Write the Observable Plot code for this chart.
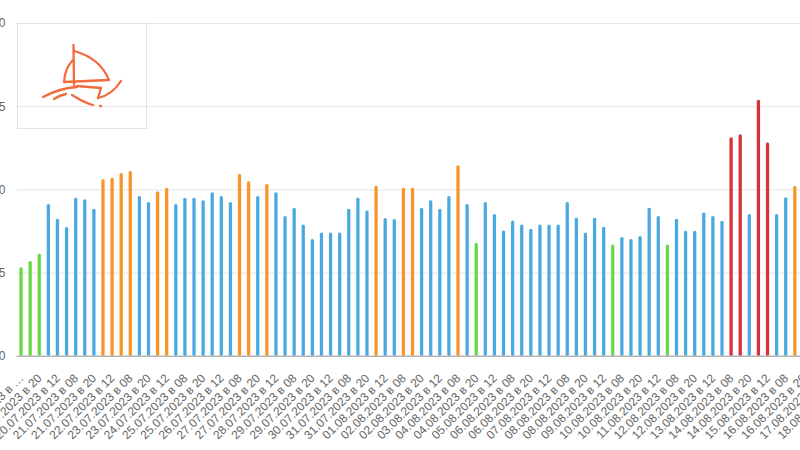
<!DOCTYPE html>
<html><head><meta charset="utf-8">
<script src="https://cdn.jsdelivr.net/npm/d3@7"></script>
<script src="https://cdn.jsdelivr.net/npm/@observablehq/plot@0.6"></script>
<style>
html,body{margin:0;padding:0;background:#fff;}
#wrap{position:relative;width:800px;height:450px;overflow:hidden;background:#fff;}
#chart{position:absolute;left:-30px;top:0;}
#logo{position:absolute;left:17px;top:23px;}
</style></head><body>
<div id="wrap"><div id="chart"></div>
<svg id="logo" width="131" height="107" viewBox="17 23 131 107">
  <rect x="17.5" y="23.5" width="129" height="105" fill="none" stroke="#e3e3e3"/>
  <g fill="none" stroke="#f26b3c" stroke-width="2.3" stroke-linecap="round" stroke-linejoin="round">
    <path d="M73.5,45 L74,85"/>
    <path d="M74,51 Q100,58 109,80 L64,82 Q65,68 73,60"/>
    <path d="M43,97 Q60,88 77,87"/>
    <path d="M77,86 L101,88 L98,98"/>
    <path d="M98,98 Q112,95 121,81"/>
    <path d="M54,99 Q60,95 66,94"/>
    <path d="M72,95 Q85,103 93,105"/>
    <path d="M100,106 L101,106"/>
  </g>
</svg>
</div>
<script>
const days = ["19.07.2023","20.07.2023","21.07.2023","22.07.2023","23.07.2023","24.07.2023","25.07.2023","26.07.2023","27.07.2023","28.07.2023","29.07.2023","30.07.2023","31.07.2023","01.08.2023","02.08.2023","03.08.2023","04.08.2023","05.08.2023","06.08.2023","07.08.2023","08.08.2023","09.08.2023","10.08.2023","11.08.2023","12.08.2023","13.08.2023","14.08.2023","15.08.2023","16.08.2023","17.08.2023","18.08.2023"];
const hours = ["08","12","20"];
const values = [5.32,5.70,6.14,9.12,8.23,7.73,9.50,9.40,8.84,10.60,10.70,10.98,11.10,9.60,9.24,9.88,10.10,9.12,9.50,9.50,9.34,9.82,9.60,9.24,10.92,10.48,9.60,10.32,9.82,8.40,8.90,7.89,7.01,7.41,7.41,7.41,8.84,9.50,8.73,10.22,8.28,8.22,10.10,10.10,8.90,9.34,8.84,9.60,11.45,9.12,6.79,9.24,8.52,7.53,8.13,7.89,7.63,7.89,7.89,7.89,9.24,8.30,7.41,8.30,7.75,6.69,7.13,7.01,7.19,8.90,8.40,6.69,8.23,7.51,7.51,8.61,8.40,8.11,13.13,13.31,8.52,15.39,12.81,8.52,9.52,10.20];
const levels = ["g","g","g","b","b","b","b","b","b","o","o","o","o","b","b","o","o","b","b","b","b","b","b","b","o","o","b","o","b","b","b","b","b","b","b","b","b","b","b","o","b","b","o","o","b","b","b","b","o","b","g","b","b","b","b","b","b","b","b","b","b","b","b","b","b","g","b","b","b","b","b","g","b","b","b","b","b","b","r","r","b","r","r","b","b","o"];
const yTicks = [0,5,10,15,20];
const levelNames = ["g","b","o","r"];
const levelColors = ["#66d948","#4aa9df","#f7952a","#d8313a"];

const slots = days.flatMap(d => hours.map(h => `${d} в ${h}`)).slice(0, 92);
const labelled = slots.filter((d, i) => i % 2 === 0);
const data = values.map((v, i) => ({slot: slots[i], value: v, level: levels[i]}));

const chart = Plot.plot({
  width: 884, height: 450,
  marginLeft: 46.5, marginRight: 0, marginTop: 23, marginBottom: 94.3,
  style: {fontFamily: "Helvetica, Arial, 'Liberation Sans', sans-serif", fontSize: "12px", color: "#666", background: "transparent", maxWidth: "none", overflow: "visible"},
  x: {domain: slots, paddingInner: 0.64, paddingOuter: 0.32, align: 0.5, round: false, label: null},
  y: {domain: [0, 20], label: null},
  color: {domain: levelNames, range: levelColors},
  marks: [
    Plot.gridY(yTicks, {stroke: "#e6e6e6", strokeOpacity: 1}),
    Plot.axisY(yTicks, {tickSize: 0, tickPadding: 11.5, label: null, fill: "#666", fontSize: 12}),
    Plot.barY(data, {x: "slot", y: "value", fill: "level", rx: 1.5}),
    Plot.ruleY([0], {stroke: "#999"}),
    Plot.axisX(labelled, {tickSize: 0, tickPadding: 20, tickRotate: -45, label: null, fill: "#666", fontSize: 12,
      tickFormat: d => d === slots[0] ? d.slice(0, -2) + "…" : d})
  ]
});
document.getElementById("chart").appendChild(chart);
</script>
</body></html>
